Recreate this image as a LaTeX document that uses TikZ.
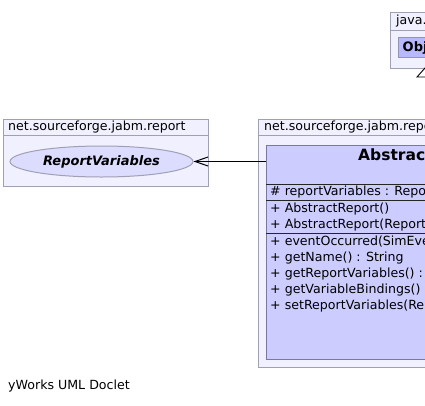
\documentclass[tikz,border=0pt]{standalone}
\usepackage{fontspec}
\setmainfont{DejaVu Sans}
\usetikzlibrary{arrows.meta,shapes.geometric}
\definecolor{pkgfill}{HTML}{F0F0FF}
\definecolor{pkgline}{HTML}{A0A0B4}
\definecolor{clsfill}{HTML}{CCCCFF}
\definecolor{clsline}{HTML}{7878A0}
\definecolor{ifcfill}{HTML}{DCDCFF}
\definecolor{objfill}{HTML}{B8B8FF}
\tikzset{
  pkgbox/.style={draw=pkgline, fill=pkgfill, line width=1pt, anchor=north west, inner sep=0pt},
  pkghead/.style={draw=pkgline, fill=pkgfill, line width=1pt, anchor=north west, inner sep=0pt},
  lbl/.style={anchor=west, inner sep=0pt, font=\fontsize{12.6}{14}\selectfont},
  clsbox/.style={draw=clsline, fill=clsfill, line width=1pt, anchor=north west, inner sep=0pt},
  sep/.style={draw=black!85, line width=1pt},
}
\begin{document}
\begin{tikzpicture}[x=1pt,y=-1pt]
\useasboundingbox (0,0) rectangle (425,405);
\clip (0,0) rectangle (425,405);
\fill[white] (0,0) rectangle (425,405);
% top-right package java.lang
\node[pkgbox, minimum width=60, minimum height=56] (jpkg) at (390,12) {};
\node[pkghead, minimum width=60, minimum height=18] (jhead) at (390,12) {};
\node[lbl] (jtxt) at (396,21) {java.lang};
\node[draw=clsline!80, fill=objfill, line width=1pt, anchor=north west, inner sep=0pt, minimum width=60, minimum height=20] (obj) at (398,37) {};
\node[anchor=west, inner sep=0pt, font=\fontsize{13}{15}\selectfont\bfseries] (objtxt) at (402.5,47.5) {Object};
\coordinate (triapex) at (425,68);
\draw[black, line width=0.9pt] (triapex) -- ++(-8,9) -- ++(16,0) -- cycle;
% left package
\node[pkgbox, minimum width=205, minimum height=67] (lpkg) at (3,119) {};
\node[pkghead, minimum width=205, minimum height=16] (lhead) at (3,119) {};
\node[lbl] (ltxt) at (8,127.5) {net.sourceforge.jabm.report};
\node[ellipse, draw=pkgline, fill=ifcfill, line width=1pt, minimum width=183, minimum height=31, inner sep=0pt,
      font=\fontsize{13}{15}\selectfont\bfseries\itshape] (rv) at (101.5,161.5) {ReportVariables};
% right package
\node[pkgbox, minimum width=200, minimum height=248] (rpkg) at (258,119) {};
\node[pkghead, minimum width=200, minimum height=16] (rhead) at (258,119) {};
\node[lbl] (rtxt) at (264,127.5) {net.sourceforge.jabm.report};
\node[clsbox, minimum width=313, minimum height=214] (cls) at (266,145) {};
\node[anchor=west, inner sep=0pt, font=\fontsize{15.5}{17}\selectfont\bfseries] (title) at (358,156) {AbstractReport};
\draw[sep] (266,184) -- (579,184);
\draw[sep] (266,200) -- (579,200);
\draw[sep] (266,233) -- (579,233);
\node[lbl] (f1) at (270,192) {\#\ reportVariables : ReportVariables};
\node[lbl] (c1) at (270,209.5) {+\ AbstractReport()};
\node[lbl] (c2) at (270,225) {+\ AbstractReport(ReportVariables)};
\node[lbl] (m1) at (270,242) {+\ eventOccurred(SimEvent)};
\node[lbl] (m2) at (270,258) {+\ getName() : String};
\node[lbl] (m3) at (270,274) {+\ getReportVariables() : ReportVariables};
\node[lbl] (m4) at (270,290) {+\ getVariableBindings() : Map};
\node[lbl] (m5) at (270,306) {+\ setReportVariables(ReportVariables)};
% association
\draw[line width=1pt, -{Straight Barb[length=13pt,width=9pt]}] (rv.east -| cls.west) -- (rv.east);
% footer
\node[lbl] (foot) at (8,386) {yWorks UML Doclet};
\end{tikzpicture}
\end{document}
